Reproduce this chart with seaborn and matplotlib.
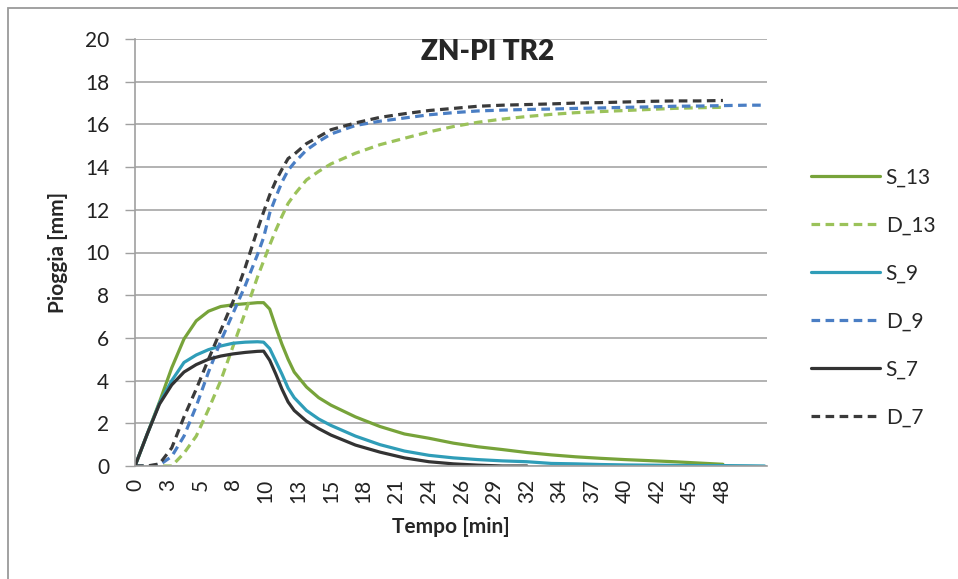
import numpy as np
import pandas as pd
import matplotlib
matplotlib.use("Agg")
import matplotlib.pyplot as plt
import matplotlib.patches as mpatches
import seaborn as sns

# ---- data ----
t = [0, 1, 2, 3, 4, 5, 6, 7, 8, 9, 10, 10.5, 11, 11.5, 12, 12.5, 13, 14, 15, 16,
     18, 20, 22, 24, 26, 28, 30, 32, 34, 36, 38, 40, 42, 44, 46, 48, 50, 51.4]

S_13 = [0, 1.5, 3.0, 4.6, 5.95, 6.8, 7.25, 7.47, 7.55, 7.6, 7.65, 7.65, 7.35, 6.5, 5.7, 5.0, 4.4, 3.7, 3.2, 2.85,
        2.3, 1.85, 1.5, 1.3, 1.07, 0.9, 0.77, 0.63, 0.52, 0.43, 0.36, 0.3, 0.25, 0.2, 0.14, 0.08, None, None]
D_13 = [0, 0, 0, 0, 0.6, 1.4, 2.65, 4.0, 5.6, 7.2, 8.85, 9.6, 10.35, 11.05, 11.7, 12.3, 12.7, 13.4, 13.8, 14.15,
        14.65, 15.05, 15.35, 15.65, 15.9, 16.1, 16.25, 16.37, 16.47, 16.55, 16.6, 16.65, 16.7, 16.75, 16.78, 16.8, None, None]
S_9 = [0, 1.5, 2.95, 4.0, 4.85, 5.2, 5.45, 5.62, 5.75, 5.8, 5.82, 5.8, 5.5, 4.9, 4.3, 3.65, 3.2, 2.6, 2.2, 1.9,
       1.4, 1.0, 0.7, 0.5, 0.38, 0.3, 0.24, 0.2, 0.12, 0.1, 0.07, 0.05, 0.04, 0.03, 0.02, 0.02, 0.01, 0]
D_9 = [0, 0, 0.05, 0.45, 1.4, 2.8, 4.4, 5.85, 7.15, 8.45, 9.9, 10.7, 11.85, 12.6, 13.3, 13.85, 14.2, 14.8, 15.2, 15.55,
       15.95, 16.15, 16.3, 16.45, 16.55, 16.63, 16.67, 16.7, 16.72, 16.75, 16.77, 16.8, 16.82, 16.85, 16.86, 16.88, 16.9, 16.9]
S_7 = [0, 1.5, 2.9, 3.8, 4.4, 4.75, 5.0, 5.15, 5.25, 5.32, 5.37, 5.38, 4.95, 4.3, 3.6, 3.0, 2.6, 2.1, 1.75, 1.45,
       0.98, 0.65, 0.38, 0.2, 0.1, 0.04, 0.0, 0.0, None, None, None, None, None, None, None, None, None, None]
D_7 = [0, 0, 0.1, 0.85, 2.3, 3.6, 5.0, 6.35, 7.7, 9.3, 11.07, 11.9, 12.7, 13.36, 13.9, 14.4, 14.6, 15.1, 15.42, 15.75,
       16.07, 16.33, 16.5, 16.65, 16.75, 16.85, 16.9, 16.93, 16.96, 17.0, 17.02, 17.05, 17.08, 17.1, 17.1, 17.12, None, None]

series_names = ["S_13", "D_13", "S_9", "D_9", "S_7", "D_7"]
series_values = [S_13, D_13, S_9, D_9, S_7, D_7]

x_tick_labels = ["0", "3", "5", "8", "10", "13", "15", "18", "21", "24", "26", "29",
                 "32", "34", "37", "40", "42", "45", "48"]
y_ticks = [0, 2, 4, 6, 8, 10, 12, 14, 16, 18, 20]

colors = {"S_13": "#77A33A", "D_13": "#9BC25A", "S_9": "#2F9DB8",
          "D_9": "#4A7EC4", "S_7": "#333333", "D_7": "#3A3A3A"}
dash = (2.7, 1.7)
dashes = {"S_13": "", "D_13": dash, "S_9": "", "D_9": dash, "S_7": "", "D_7": dash}

rows = []
for name, vals in zip(series_names, series_values):
    for tt, v in zip(t, vals):
        if v is not None:
            rows.append({"t": tt, "v": v, "series": name})
df = pd.DataFrame(rows)

# ---- figure ----
sns.set_theme(style="white")
plt.rcParams["font.family"] = ["Lato", "DejaVu Sans"]

fig = plt.figure(figsize=(9.58, 5.79), dpi=100)
ax = fig.add_axes([135 / 958, 1 - 466 / 579, 632 / 958, 427 / 579])

sns.lineplot(data=df, x="t", y="v", hue="series", style="series",
             hue_order=series_names, style_order=series_names,
             palette=colors, dashes=dashes, linewidth=2.3,
             estimator=None, sort=False, ax=ax)

ax.set_xlim(0, 51.6)
ax.set_ylim(0, 20)
ax.set_yticks(y_ticks)
ax.set_yticklabels([str(v) for v in y_ticks], fontsize=15, color="#222222")
tick_pos = [i * 48 / 18 for i in range(len(x_tick_labels))]
ax.set_xticks(tick_pos)
ax.set_xticklabels(x_tick_labels, rotation=90, fontsize=15, color="#222222")
ax.tick_params(axis="x", length=0, pad=9)
ax.tick_params(axis="y", length=7.5, width=1.0, color="#A0A0A0", pad=11, direction="out", left=True)

ax.grid(axis="y", color="#A6A6A6", linewidth=1.2)
ax.grid(axis="x", visible=False)
ax.set_axisbelow(True)
for s in ["top", "right"]:
    ax.spines[s].set_visible(False)
for s in ["left", "bottom"]:
    ax.spines[s].set_color("#A0A0A0")
    ax.spines[s].set_linewidth(1.2)

ax.set_xlabel("Tempo [min]", fontsize=15, fontweight="bold", labelpad=10)
ax.set_ylabel("Pioggia [mm]", fontsize=15, fontweight="bold", labelpad=12)

fig.text(488 / 958, 1 - 52 / 579, "ZN-PI TR2", fontsize=20, fontweight="heavy",
         ha="center", va="center")

handles, labels = ax.get_legend_handles_labels()
leg = ax.legend(handles, labels, loc="upper left",
                bbox_to_anchor=(792 / 958, 1 - 149 / 579), bbox_transform=fig.transFigure,
                frameon=False, fontsize=15, handlelength=3.3, handletextpad=0.3,
                labelspacing=1.34)
for line in leg.get_lines():
    line.set_linewidth(2.3)

# outer chart border (left and top visible)
fig.add_artist(mpatches.Rectangle((8 / 958, -0.1), 2.0, 1.1 - 8 / 579,
                                  transform=fig.transFigure, fill=False,
                                  edgecolor="#9A9A9A", linewidth=1.3))

fig.savefig("out.png", dpi=100)
